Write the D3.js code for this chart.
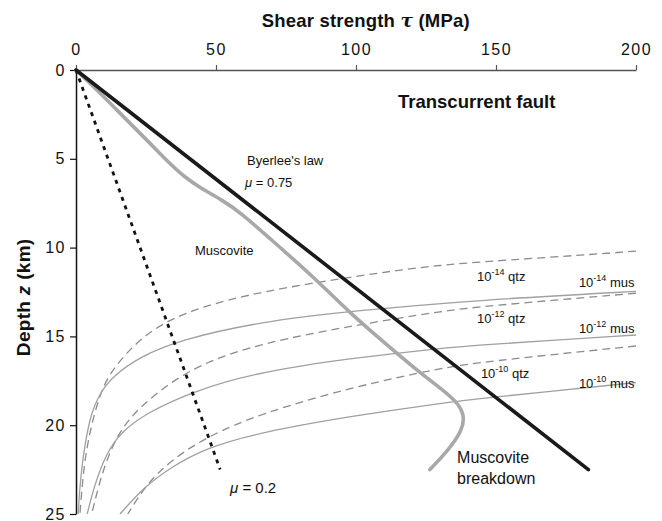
<!DOCTYPE html>
<html>
<head>
<meta charset="utf-8">
<script src="https://cdn.jsdelivr.net/npm/d3@7"></script>
<style>
  html, body { margin: 0; padding: 0; background: #fff; }
  svg { display: block; font-family: "Liberation Sans", Arial, Helvetica, sans-serif; }
</style>
</head>
<body>
<svg id="chart" width="662" height="521"></svg>
<script>
// Shear strength τ (MPa) vs depth z (km), transcurrent fault

const xTicks = [0, 50, 100, 150, 200];
const yTicks = [0, 5, 10, 15, 20, 25];

// Frictional strength, Byerlee's law (μ = 0.75): [τ, z]
const byerlee = [[0, 0], [183, 22.5]];
// Low friction (μ = 0.2): [τ, z]
const lowFriction = [[0, 0], [51.5, 22.5]];
// Muscovite frictional strength profile, ending at breakdown: [τ, z]
const muscovite = [
  [0, 0], [9, 1.35], [18, 2.8], [26, 4.05], [33, 5.2], [38.5, 6.0],
  [45, 6.7], [52, 7.3], [59, 8.05], [69.3, 9.5], [84.8, 11.64],
  [97.9, 13.7], [112, 15.6], [122.5, 17.0], [130.5, 17.95], [135.8, 18.65],
  [138.8, 19.4], [138, 20.3], [133, 21.4], [126.4, 22.5]
];

// Viscous flow laws at strain rates 1e-14, 1e-12, 1e-10 s^-1: [τ, z]
const qtz14 = [[200, 10.2], [160, 10.65], [130, 10.95], [100, 11.6], [65.7, 12.48], [44.5, 13.35], [31.8, 14.17], [21.5, 15.3], [11.8, 17.08], [8.3, 18.4], [5.3, 20.1], [3.1, 21.96], [2.0, 23.8], [1.4, 25]];
const mus14 = [[200, 12.46], [144, 12.95], [100, 13.55], [65.7, 14.17], [37.1, 15.2], [22.9, 16.14], [13, 17.26], [8.5, 18.2], [4.9, 19.5], [2.3, 21.96], [1.2, 23.8], [0.8, 25]];
const qtz12 = [[200, 12.57], [144, 13.32], [130, 13.6], [100, 14.36], [65.7, 15.39], [45.5, 16.5], [33.6, 17.6], [22.9, 18.96], [15.7, 20.27], [10.9, 21.96], [8.0, 23.46], [5.6, 25]];
const mus12 = [[200, 14.92], [144, 15.48], [130, 15.67], [100, 16.2], [65.7, 16.98], [41.5, 18.1], [25, 19.33], [16.2, 20.37], [10.8, 21.58], [6.4, 23.46], [4.0, 25]];
const qtz10 = [[200, 15.54], [144, 16.45], [130, 16.8], [100, 17.8], [65.7, 19.35], [46.7, 20.65], [34, 21.96], [25, 23.35], [18.5, 25]];
const mus10 = [[200, 17.6], [144, 18.5], [130, 18.77], [100, 19.45], [65.7, 20.4], [46, 21.3], [33.6, 22.4], [24.5, 23.46], [15.7, 25]];

const flowCurves = [
  { pts: qtz14, dashed: true },
  { pts: mus14, dashed: false },
  { pts: qtz12, dashed: true },
  { pts: mus12, dashed: false },
  { pts: qtz10, dashed: true },
  { pts: mus10, dashed: false }
];

// Curve labels: exponent and mineral
const curveLabels = [
  { exp: "-14", name: "qtz", at: [143.2, 11.88] },
  { exp: "-14", name: "mus", at: [179.6, 12.22] },
  { exp: "-12", name: "qtz", at: [143.2, 14.25] },
  { exp: "-12", name: "mus", at: [179.6, 14.81] },
  { exp: "-10", name: "qtz", at: [144.6, 17.34] },
  { exp: "-10", name: "mus", at: [179.6, 17.9] }
];

const margin = { left: 76, top: 70 };
const plotW = 560, plotH = 444;

const svg = d3.select("#chart");
const g = svg.append("g").attr("transform", `translate(${margin.left},${margin.top})`);

const x = d3.scaleLinear().domain([0, 200]).range([0, plotW]);
const y = d3.scaleLinear().domain([0, 25]).range([0, plotH]);

// Axes
const xAxis = g.append("g")
  .call(d3.axisTop(x).tickValues(xTicks).tickSize(5).tickPadding(10).tickSizeOuter(0));
xAxis.select(".domain").attr("stroke", "#555").attr("stroke-width", 1.5);
xAxis.selectAll(".tick line").attr("stroke", "#555").attr("stroke-width", 1.2);
xAxis.selectAll("text").attr("font-size", 16).attr("letter-spacing", "1.5px")
  .attr("fill", "#111").attr("font-family", "'Liberation Sans', Arial, sans-serif");

const yAxis = g.append("g")
  .call(d3.axisLeft(y).tickValues(yTicks).tickSize(6).tickPadding(4).tickSizeOuter(0));
yAxis.select(".domain").attr("stroke", "#111").attr("stroke-width", 1.5);
yAxis.selectAll(".tick line").attr("stroke", "#111").attr("stroke-width", 1.2);
yAxis.selectAll("text").attr("font-size", 16).attr("letter-spacing", "1.5px")
  .attr("fill", "#111").attr("font-family", "'Liberation Sans', Arial, sans-serif");

// Axis titles
const title = svg.append("text")
  .attr("x", margin.left + x(103.5)).attr("y", 27)
  .attr("text-anchor", "middle").attr("font-size", 18.5).attr("font-weight", "bold")
  .attr("letter-spacing", "0.2px").attr("fill", "#111");
title.append("tspan").text("Shear strength ");
title.append("tspan").text("τ").attr("font-style", "italic").attr("font-family", "'DejaVu Serif', serif");
title.append("tspan").text(" (MPa)");

const ylab = svg.append("text")
  .attr("transform", `translate(30,${margin.top + y(12.8)}) rotate(-90)`)
  .attr("text-anchor", "middle").attr("font-size", 19).attr("font-weight", "bold")
  .attr("letter-spacing", "0.3px").attr("fill", "#111");
ylab.append("tspan").text("Depth ");
ylab.append("tspan").text("z").attr("font-style", "italic");
ylab.append("tspan").text(" (km)");

// Lines
const line = d3.line().x(d => x(d[0])).y(d => y(d[1]));
const smooth = d3.line().x(d => x(d[0])).y(d => y(d[1])).curve(d3.curveBasis);

// Flow-law curves
g.selectAll("path.flow").data(flowCurves).join("path")
  .attr("class", "flow")
  .attr("d", d => smooth(d.pts))
  .attr("fill", "none")
  .attr("stroke", d => d.dashed ? "#8c8c8c" : "#a0a0a0")
  .attr("stroke-width", 1.3)
  .attr("stroke-dasharray", d => d.dashed ? "8,5" : null);

// Muscovite friction profile
g.append("path").attr("d", smooth(muscovite))
  .attr("fill", "none").attr("stroke", "#a8a8a8").attr("stroke-width", 3.6)
  .attr("stroke-linecap", "round").attr("stroke-linejoin", "round");

// μ = 0.2
g.append("path").attr("d", line(lowFriction))
  .attr("fill", "none").attr("stroke", "#111").attr("stroke-width", 2.8)
  .attr("stroke-dasharray", "4,5");

// Byerlee's law
g.append("path").attr("d", line(byerlee))
  .attr("fill", "none").attr("stroke", "#1a1a1a").attr("stroke-width", 3.6)
  .attr("stroke-linecap", "round");

// Annotations
function txt(tx, tz, size, weight) {
  return g.append("text").attr("x", x(tx)).attr("y", y(tz))
    .attr("font-size", size).attr("font-weight", weight || "normal").attr("fill", "#111");
}

txt(115, 2.14, 18.5, "bold").text("Transcurrent fault");
txt(61.1, 5.35, 13).text("Byerlee's law");
const m75 = txt(60.4, 6.59, 13);
m75.append("tspan").text("μ").attr("font-style", "italic");
m75.append("tspan").text(" = 0.75");
txt(42.5, 10.42, 13).text("Muscovite");

const m02 = txt(55, 23.82, 15);
m02.append("tspan").text("μ").attr("font-style", "italic");
m02.append("tspan").text(" = 0.2");

txt(136.1, 22.13, 16).text("Muscovite");
txt(136.1, 23.31, 16).text("breakdown");

curveLabels.forEach(l => {
  const t = txt(l.at[0], l.at[1], 13);
  t.append("tspan").text("10");
  t.append("tspan").text(l.exp).attr("font-size", 9).attr("dy", -6);
  t.append("tspan").text(" " + l.name).attr("dy", 6);
});
</script>
</body>
</html>
